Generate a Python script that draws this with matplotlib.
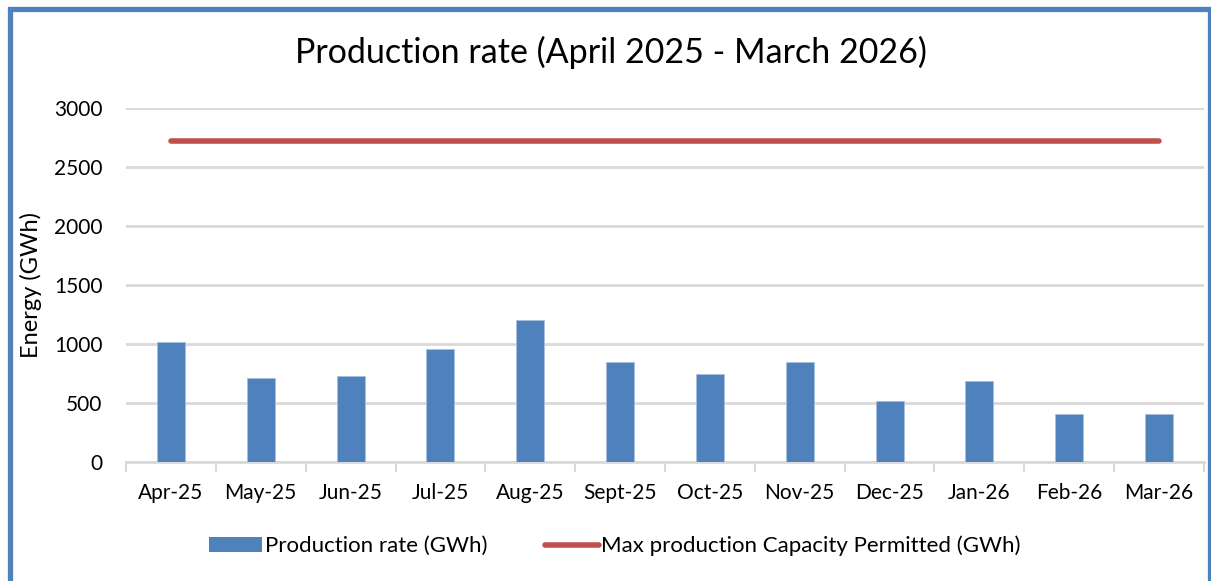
import matplotlib
matplotlib.use("Agg")
import matplotlib.pyplot as plt
from matplotlib.patches import Rectangle, Patch
from matplotlib.lines import Line2D
import numpy as np

months = ["Apr-25", "May-25", "Jun-25", "Jul-25", "Aug-25", "Sept-25",
          "Oct-25", "Nov-25", "Dec-25", "Jan-26", "Feb-26", "Mar-26"]
production = [1020, 710, 725, 960, 1200, 850, 745, 845, 515, 685, 405, 410]
max_capacity = [2720] * 12
yticks = [0, 500, 1000, 1500, 2000, 2500, 3000]

plt.rcParams['font.family'] = ['Lato', 'DejaVu Sans']
W, H = 1211, 581
fig = plt.figure(figsize=(W / 100, H / 100), dpi=100)
ax = fig.add_axes([126 / W, 1 - 462 / H, (1204 - 126) / W, (462 - 108) / H])

x = np.arange(len(months))
ax.bar(x, production, width=0.31, color="#4F81BD", edgecolor="#A7C0DE", linewidth=0.6, zorder=3)
ax.plot(x, max_capacity, color="#C0504D", linewidth=4, solid_capstyle="round", zorder=4)

ax.set_xlim(-0.5, len(months) - 0.5)
ax.set_ylim(0, 3000)
ax.set_yticks(yticks)
ax.set_yticklabels([str(v) for v in yticks], fontsize=15)
ax.set_xticks(x)
ax.set_xticklabels(months, fontsize=15)
ax.tick_params(axis='x', length=0, pad=15)
ax.tick_params(axis='y', length=0, pad=17)
ax.set_xticks(np.arange(-0.5, len(months)), minor=True)
ax.tick_params(axis='x', which='minor', length=7, width=1.5, color="#D9D9D9", direction='out')
ax.grid(axis='y', color="#D9D9D9", linewidth=2, zorder=0)
for s in ["top", "right", "left"]:
    ax.spines[s].set_visible(False)
ax.spines["bottom"].set_color("#D9D9D9")
ax.spines["bottom"].set_linewidth(2)

ax.set_ylabel("Energy (GWh)", fontsize=17)
ax.yaxis.set_label_coords(-0.078, 0.5)

fig.text(611 / W, 1 - 52 / H, "Production rate (April 2025 - March 2026)",
         ha="center", va="center", fontsize=24.5)

handles = [Patch(facecolor="#4F81BD", edgecolor="none"),
           Line2D([0], [0], color="#C0504D", linewidth=4, solid_capstyle="round")]
labels = ["Production rate (GWh)", "Max production Capacity Permitted (GWh)"]
fig.legend(handles, labels, loc="center", bbox_to_anchor=(615 / W, 1 - 546 / H),
           ncol=2, frameon=False, fontsize=16, handlelength=2.4, handletextpad=0.12,
           columnspacing=2.6)

fig.patches.append(Rectangle((9.5 / W, -0.05), (1210 - 9.5) / W, 1.05 - 9 / H,
                             transform=fig.transFigure, fill=False,
                             edgecolor="#4F81BD", linewidth=3.8, zorder=10))

fig.savefig("out.png", dpi=100)
